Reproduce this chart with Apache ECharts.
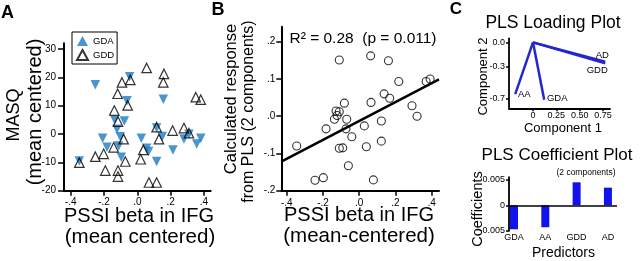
<!DOCTYPE html>
<html><head><meta charset="utf-8">
<script src="https://cdn.jsdelivr.net/npm/echarts@6/dist/echarts.min.js"></script>
<style>html,body{margin:0;padding:0;background:#fff}#c{width:640px;height:261px}</style>
</head><body><div id="c"></div>
<script>
// ---------- Panel A data ----------
const gdaX = [-0.252,-0.046,-0.062,-0.136,-0.078,-0.122,-0.102,-0.208,-0.182,-0.112,-0.348,-0.096,0.156,0.024,0.116,0.150,0.056,0.068,0.116,0.214,0.280,0.310,0.357,0.381];
const gdaY = [17.4,20.2,11.7,5.0,4.6,1.7,-1.0,-1.5,-4.7,-4.2,-9.5,-8.2,12.3,-1.5,2.1,-0.9,-5.0,-6.2,-9.7,-5.6,-1.8,-0.1,-3.5,-1.5];
const gddX = [-0.092,-0.042,-0.118,-0.058,-0.138,-0.116,-0.082,-0.142,-0.202,-0.252,-0.348,-0.072,-0.192,-0.116,-0.116,0.056,0.160,0.156,0.351,0.381,0.116,0.130,0.212,0.280,0.310,0.036,0.020,0.070,0.116];
const gddY = [18.2,19.1,14.2,10.1,8.3,4.4,-1.8,-4.7,-7.0,-8.0,-10.1,-9.7,-12.9,-12.9,-15.0,23.3,21.2,18.2,13.0,12.1,2.4,-1.8,1.2,2.1,0.3,-5.6,-8.9,-17.1,-17.1];
const aXTicks = [-0.4,-0.2,0,0.2,0.4];
const aXTickLabels = ['-.4','-.2','.0','.2','.4'];
const aYTicks = [-20,-10,0,10,20,30];
const aYTickLabels = ['-20','-10','0','10','20','30'];

// ---------- Panel B data ----------
const bX = [-0.345,-0.244,-0.198,-0.183,-0.110,-0.128,-0.110,-0.137,-0.122,-0.082,-0.069,-0.073,-0.041,-0.110,-0.091,-0.060,0.028,0.039,0.063,0.065,0.078,0.122,0.122,0.137,0.161,0.168,0.218,0.291,0.319,0.369,0.391];
const bY = [-0.080,-0.172,-0.165,-0.034,0.151,0.014,0.012,-0.008,0.002,0.035,-0.008,-0.034,-0.055,-0.086,-0.085,-0.133,-0.026,-0.082,0.162,0.037,-0.171,-0.013,-0.067,0.060,0.149,0.048,0.093,0.028,0.000,0.093,0.100];
const regIntercept = -0.013;
const regSlope = 0.254;
const bXTicks = [-0.4,-0.2,0,0.2,0.4];
const bXTickLabels = ['-.4','-.2','.0','.2','.4'];
const bYTicks = [-0.2,-0.1,0,0.1,0.2];
const bYTickLabels = ['-.2','-.1','.0','.1','.2'];

// ---------- Panel C data ----------
const loadNames = ['AD','GDD','AA','GDA'];
const loadComp1 = [0.774,0.774,-0.19,0.12];
const loadComp2 = [-0.24,-0.26,-0.64,-0.71];
const c1XTicks = [0,0.25,0.5,0.75];
const c1XTickLabels = ['0','0.25','0.50','0.75'];
const c1YTicks = [0,-0.3,-0.7];
const c1YTickLabels = ['0.0','-0.3','-0.7'];
const coefNames = ['GDA','AA','GDD','AD'];
const coefValues = [-0.0047,-0.0043,0.0045,0.00345];
const c2YTicks = [0.005,0,-0.005];
const c2YTickLabels = ['0.005','0','-0.005'];

// ---------- styles ----------
const FONT = "'Liberation Sans', Arial, Helvetica, sans-serif";
const BLACK = '#000';
const labelOffsets = {AD:[-3,-6], GDD:[-8,7], AA:[9,0], GDA:[13,-1]};

function fmt(ticks, labels){ return v => { const i = ticks.indexOf(v); return i >= 0 ? labels[i] : ''; }; }
function axis(grid, min, max, ticks, labels, o){
  o = o || {};
  return {
    gridIndex: grid, type: 'value', min: min, max: max,
    axisLine: {show: o.line !== false, onZero: false, lineStyle: {color: BLACK, width: o.lw || 2}},
    axisTick: {show: o.tick !== false, customValues: ticks, length: o.tl || 5, lineStyle: {color: BLACK, width: 1.5}},
    axisLabel: {customValues: ticks, formatter: fmt(ticks, labels), fontSize: o.fs || 10, margin: o.m || 6, color: BLACK, fontFamily: FONT},
    splitLine: {show: false}
  };
}

const chart = echarts.init(document.getElementById('c'), null, {renderer: 'canvas'});

const series = [];
series.push({name: 'GDA', type: 'scatter', xAxisIndex: 0, yAxisIndex: 0, symbol: 'triangle', symbolRotate: 180, symbolSize: 9.5,
  itemStyle: {color: '#1c7bc2'}, data: gdaX.map((x, i) => [x, gdaY[i]])});
series.push({name: 'GDD', type: 'scatter', xAxisIndex: 0, yAxisIndex: 0, symbol: 'triangle', symbolSize: 9.5,
  itemStyle: {color: 'rgba(0,0,0,0)', borderColor: BLACK, borderWidth: 1.2}, data: gddX.map((x, i) => [x, gddY[i]])});
series.push({name: 'B', type: 'scatter', xAxisIndex: 1, yAxisIndex: 1, symbol: 'circle', symbolSize: 8,
  itemStyle: {color: 'rgba(0,0,0,0)', borderColor: BLACK, borderWidth: 1.1}, data: bX.map((x, i) => [x, bY[i]])});
const bXMin = -0.43, bXMax = 0.44;
series.push({name: 'fit', type: 'line', xAxisIndex: 1, yAxisIndex: 1, symbol: 'none', silent: true,
  lineStyle: {color: BLACK, width: 2.5},
  data: [[bXMin, regIntercept + regSlope * bXMin], [bXMax, regIntercept + regSlope * bXMax]]});
loadNames.forEach((n, i) => {
  series.push({name: 'load_' + n, type: 'line', xAxisIndex: 2, yAxisIndex: 2, symbol: 'none',
    lineStyle: {color: '#2626cf', width: 2.5}, data: [[0, 0], [loadComp1[i], loadComp2[i]]]});
});
series.push({name: 'loadLabels', type: 'scatter', xAxisIndex: 2, yAxisIndex: 2, symbolSize: 1,
  itemStyle: {color: '#fff', opacity: 0},
  data: loadNames.map((n, i) => ({name: n, value: [loadComp1[i], loadComp2[i]],
    label: {show: true, position: 'inside', offset: labelOffsets[n], formatter: n, color: '#000', opacity: 1, fontSize: 9.5, fontFamily: FONT}}))});
series.push({name: 'coef', type: 'bar', xAxisIndex: 3, yAxisIndex: 3, barWidth: 8,
  itemStyle: {color: '#1212ec'}, data: coefValues.map((v, i) => [i, v]),
  markLine: {silent: true, symbol: 'none', label: {show: false}, lineStyle: {color: BLACK, width: 1.6, type: 'solid'},
    data: [{yAxis: 0}]}});

const T = (text, x, y, size, opt) => Object.assign({type: 'text', x: x, y: y, silent: true,
  style: {text: text, align: 'center', verticalAlign: 'middle', fill: BLACK, font: (opt && opt.bold ? 'bold ' : '') + size + 'px ' + FONT}},
  opt && opt.rot ? {rotation: Math.PI / 2} : {});

chart.setOption({
  animation: false,
  textStyle: {fontFamily: FONT},
  grid: [
    {left: 64, top: 43.3, width: 146.6, height: 147.4},
    {left: 281.3, top: 26.8, width: 157.7, height: 163.9},
    {left: 509, top: 38.3, width: 101, height: 70},
    {left: 509, top: 177.2, width: 108, height: 53.6}
  ],
  xAxis: [
    axis(0, -0.44, 0.44, aXTicks, aXTickLabels, {m: 7}),
    axis(1, bXMin, bXMax, bXTicks, bXTickLabels, {m: 8}),
    axis(2, -0.257, 0.825, c1XTicks, c1XTickLabels, {m: 3, fs: 9, tl: 3, lw: 1.8}),
    axis(3, -0.16, 3.29, [0,1,2,3], coefNames, {line: false, tick: false, m: 2, fs: 9})
  ],
  yAxis: [
    axis(0, -20, 32, aYTicks, aYTickLabels, {m: 8, tl: 6}),
    axis(1, -0.2, 0.24, bYTicks, bYTickLabels, {m: 6}),
    axis(2, -0.815, 0.05, c1YTicks, c1YTickLabels, {m: 4, fs: 9, tl: 3, lw: 1.8}),
    axis(3, -0.005, 0.0055, c2YTicks, c2YTickLabels, {m: 4, fs: 9, tl: 3, lw: 1.8})
  ],
  legend: {
    data: ['GDA', 'GDD'], orient: 'vertical', left: 72, top: 32,
    borderColor: BLACK, borderWidth: 1, padding: [4, 3, 3, 4], itemGap: 3,
    itemWidth: 11, itemHeight: 10,
    textStyle: {fontSize: 9.5, color: BLACK, fontFamily: FONT}
  },
  series: series,
  graphic: [
    T('A', 7.5, 13.5, 18, {bold: true}),
    T('B', 218, 10, 18, {bold: true}),
    T('C', 456, 9, 17, {bold: true}),
    T('MASQ', 14, 115, 18, {rot: true}),
    T('(mean centered)', 35, 112, 20, {rot: true}),
    T('PSSI beta in IFG', 139, 216.5, 20),
    T('(mean centered)', 140, 237.5, 20.5),
    T('Calculated response', 231, 99, 16.5, {rot: true}),
    T('from PLS (2 components)', 248.5, 111.5, 16, {rot: true}),
    T('R\u00B2 = 0.28  (p = 0.011)', 363, 38.5, 15.5),
    T('PSSI beta in IFG', 359, 215.5, 20),
    T('(mean-centered)', 359, 236.5, 20.5),
    T('PLS Loading Plot', 553, 23.5, 17.5),
    T('Component 2', 483, 76.5, 13, {rot: true}),
    T('Component 1', 563, 128.5, 13),
    T('PLS Coefficient Plot', 557, 155, 17),
    T('(2 components)', 586, 173, 8.5),
    T('Coefficients', 477.5, 209, 14.5, {rot: true}),
    T('Predictors', 563.5, 253, 14)
  ]
});
</script></body></html>
